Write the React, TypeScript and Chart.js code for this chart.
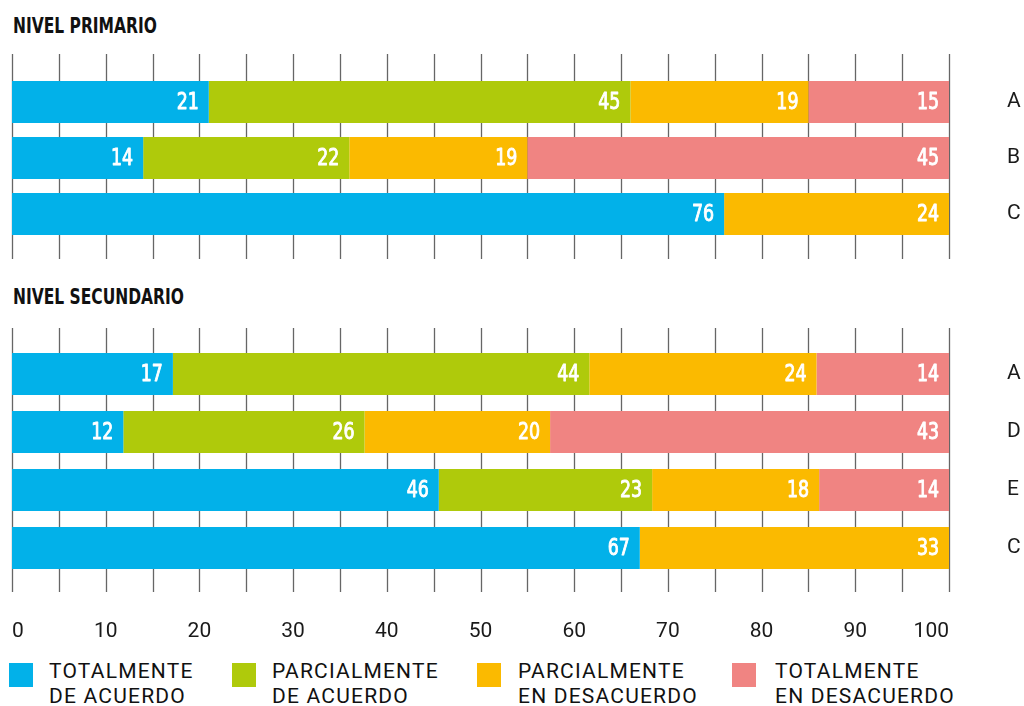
import React, { useEffect, useRef } from "react";
import { Chart, registerables } from "chart.js";

Chart.register(...registerables);

// ---------- DATA ----------
const seriesNames = [
  ["TOTALMENTE", "DE ACUERDO"],
  ["PARCIALMENTE", "DE ACUERDO"],
  ["PARCIALMENTE", "EN DESACUERDO"],
  ["TOTALMENTE", "EN DESACUERDO"],
];
const seriesColors = ["#02B1E9", "#AFCA0B", "#FBBA00", "#F08482"];

const primaryTitle = "NIVEL PRIMARIO";
const primaryCategories = ["A", "B", "C"];
const primaryTotalAcuerdo = [21, 14, 76];
const primaryParcialAcuerdo = [45, 22, 0];
const primaryParcialDesacuerdo = [19, 19, 24];
const primaryTotalDesacuerdo = [15, 45, 0];

const secondaryTitle = "NIVEL SECUNDARIO";
const secondaryCategories = ["A", "D", "E", "C"];
const secondaryTotalAcuerdo = [17, 12, 46, 67];
const secondaryParcialAcuerdo = [44, 26, 23, 0];
const secondaryParcialDesacuerdo = [24, 20, 18, 33];
const secondaryTotalDesacuerdo = [14, 43, 14, 0];

const xTickLabels = [0, 10, 20, 30, 40, 50, 60, 70, 80, 90, 100];
const gridStep = 5;

// ---------- STYLE ----------
const labelFont = "'Liberation Sans Narrow', 'DejaVu Sans Condensed', 'Roboto Condensed', sans-serif";
const textFont = "Roboto, 'Noto Sans', sans-serif";

const extGridPlugin = {
  id: "extGrid",
  beforeDatasetsDraw(chart: any, _args: any, opts: any) {
    const { ctx, chartArea, scales } = chart;
    const x = scales.x;
    ctx.save();
    ctx.strokeStyle = "#666666";
    ctx.lineWidth = 1.3;
    for (let v = 0; v <= 100; v += gridStep) {
      const px = Math.round(x.getPixelForValue(v)) + 0.5;
      ctx.beginPath();
      ctx.moveTo(px, chartArea.top - (opts.extTop || 0));
      ctx.lineTo(px, chartArea.bottom + (opts.extBottom || 0));
      ctx.stroke();
    }
    ctx.restore();
  },
};

const valueLabelPlugin = {
  id: "valueLabels",
  afterDatasetsDraw(chart: any) {
    const { ctx, chartArea } = chart;
    chart.data.datasets.forEach((ds: any, i: number) => {
      const meta = chart.getDatasetMeta(i);
      meta.data.forEach((el: any, j: number) => {
        const raw = ds.rawValues[j];
        if (!raw) return;
        const end = Math.min(el.x, chartArea.right);
        ctx.save();
        ctx.fillStyle = "#ffffff";
        ctx.strokeStyle = "#ffffff";
        ctx.lineWidth = 0.9;
        ctx.lineJoin = "round";
        ctx.font = `23px ${labelFont}`;
        ctx.textAlign = "right";
        ctx.textBaseline = "middle";
        ctx.translate(end - 10, el.y + 1);
        ctx.scale(0.84, 1);
        ctx.fillText(String(raw), 0, 0);
        ctx.strokeText(String(raw), 0, 0);
        ctx.restore();
      });
    });
  },
};

function normalize(series: number[][]): number[][] {
  const n = series[0].length;
  const sums = Array.from({ length: n }, (_, j) => series.reduce((s, arr) => s + arr[j], 0));
  return series.map((arr) => arr.map((v, j) => (v / sums[j]) * 100));
}

function makeChart(
  canvas: HTMLCanvasElement,
  categories: string[],
  series: number[][],
  cfg: { showX: boolean; padTop: number; padBottom: number; barFrac: number; extTop: number; extBottom: number; xHeight: number }
) {
  const norm = normalize(series);
  return new Chart(canvas, {
    type: "bar",
    data: {
      labels: categories,
      datasets: series.map((arr, i) => ({
        label: seriesNames[i].join(" "),
        data: norm[i],
        rawValues: arr,
        backgroundColor: seriesColors[i],
        borderWidth: 0,
        barPercentage: cfg.barFrac,
        categoryPercentage: 1,
      })) as any,
    },
    options: {
      indexAxis: "y",
      responsive: false,
      animation: false,
      devicePixelRatio: 1,
      layout: { padding: { left: 12, right: 0, top: cfg.padTop, bottom: cfg.padBottom } },
      plugins: {
        legend: { display: false },
        tooltip: { enabled: false },
        extGrid: { extTop: cfg.extTop, extBottom: cfg.extBottom },
      } as any,
      scales: {
        x: {
          stacked: true,
          min: 0,
          max: 100,
          display: cfg.showX,
          grid: { display: false, drawTicks: false },
          border: { display: false },
          afterFit: (scale: any) => {
            scale.height = cfg.xHeight;
            scale.paddingLeft = 0;
            scale.paddingRight = 0;
          },
          ticks: {
            stepSize: 10,
            align: "inner",
            padding: 42,
            color: "#1a1a1a",
            font: { family: textFont, size: 21 },
            maxRotation: 0,
            autoSkip: false,
            callback: (v: any) => (xTickLabels.includes(Number(v)) ? String(v) : ""),
          },
        },
        y: {
          stacked: true,
          position: "right",
          grid: { display: false, drawTicks: false },
          border: { display: false },
          afterFit: (scale: any) => {
            scale.width = 75;
            scale.paddingTop = 0;
            scale.paddingBottom = 0;
          },
          ticks: {
            padding: 58,
            color: "#1a1a1a",
            font: { family: textFont, size: 21 },
          },
        },
      },
    },
    plugins: [extGridPlugin, valueLabelPlugin],
  });
}

function StackedPanel(props: {
  categories: string[];
  series: number[][];
  top: number;
  height: number;
  cfg: any;
}) {
  const ref = useRef<HTMLCanvasElement>(null);
  useEffect(() => {
    if (!ref.current) return;
    const ch = makeChart(ref.current, props.categories, props.series, props.cfg);
    return () => ch.destroy();
  }, []);
  return (
    <canvas
      ref={ref}
      width={1024}
      height={props.height}
      style={{ position: "absolute", left: 0, top: props.top, width: 1024, height: props.height }}
    />
  );
}

const titleStyle: React.CSSProperties = {
  position: "absolute",
  left: 13,
  fontFamily: labelFont,
  fontWeight: 700,
  fontSize: 21,
  color: "#111",
  lineHeight: "24px",
  whiteSpace: "nowrap",
  transform: "scaleX(0.82)",
  transformOrigin: "0 0",
};

export default function App() {
  const primarySeries = [primaryTotalAcuerdo, primaryParcialAcuerdo, primaryParcialDesacuerdo, primaryTotalDesacuerdo];
  const secondarySeries = [
    secondaryTotalAcuerdo,
    secondaryParcialAcuerdo,
    secondaryParcialDesacuerdo,
    secondaryTotalDesacuerdo,
  ];
  const legendX = [
    { sq: 9, tx: 49 },
    { sq: 232, tx: 272 },
    { sq: 477, tx: 518 },
    { sq: 732, tx: 775 },
  ];
  return (
    <div
      style={{
        position: "fixed",
        left: 0,
        top: 0,
        width: 1024,
        height: 706,
        overflow: "hidden",
        background: "#fff",
      }}
    >
      <div style={{ ...titleStyle, top: 14 }}>{primaryTitle}</div>
      <StackedPanel
        categories={primaryCategories}
        series={primarySeries}
        top={40}
        height={240}
        cfg={{ showX: false, padTop: 34, padBottom: 38, barFrac: 0.75, extTop: 20, extBottom: 17, xHeight: 0 }}
      />
      <div style={{ ...titleStyle, top: 285 }}>{secondaryTitle}</div>
      <StackedPanel
        categories={secondaryCategories}
        series={secondarySeries}
        top={310}
        height={345}
        cfg={{ showX: true, padTop: 35, padBottom: 0, barFrac: 0.724, extTop: 17, extBottom: 15, xHeight: 78 }}
      />
      {seriesNames.map((lines, i) => (
        <React.Fragment key={i}>
          <div
            style={{
              position: "absolute",
              left: legendX[i].sq,
              top: 663,
              width: 24,
              height: 24,
              background: seriesColors[i],
            }}
          />
          <div
            style={{
              position: "absolute",
              left: legendX[i].tx,
              top: 659,
              fontFamily: textFont,
              fontSize: 21,
              lineHeight: "25px",
              letterSpacing: "1.2px",
              color: "#111",
              whiteSpace: "nowrap",
            }}
          >
            {lines[0]}
            <br />
            {lines[1]}
          </div>
        </React.Fragment>
      ))}
    </div>
  );
}
